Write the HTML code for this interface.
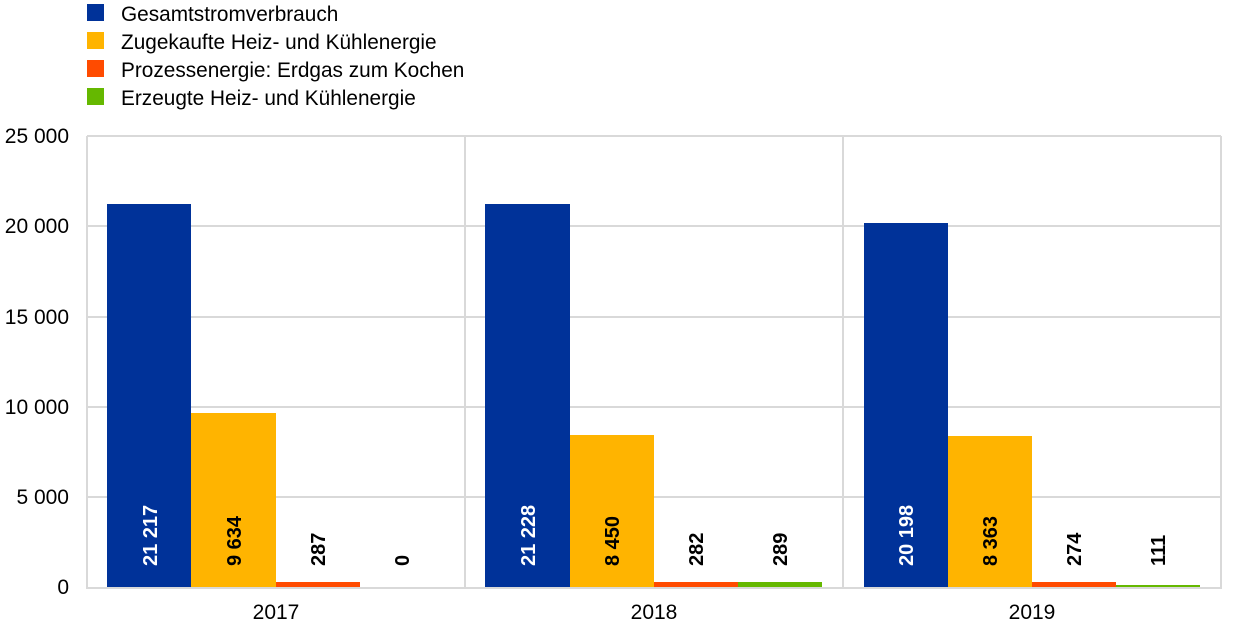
<!DOCTYPE html>
<html><head><meta charset="utf-8"><style>body{margin:0;background:#fff}</style></head><body>
<svg width="1240" height="633" xmlns="http://www.w3.org/2000/svg" font-family="Liberation Sans, Arial, sans-serif">
<rect width="1240" height="633" fill="#fff"/>
<g font-size="20.8" fill="#000">
<rect x="87" y="4" width="17" height="17" fill="#003299"/><text x="121" y="21">Gesamtstromverbrauch</text>
<rect x="87" y="32" width="17" height="17" fill="#ffb400"/><text x="121" y="49">Zugekaufte Heiz- und Kühlenergie</text>
<rect x="87" y="60" width="17" height="17" fill="#ff4b00"/><text x="121" y="77">Prozessenergie: Erdgas zum Kochen</text>
<rect x="87" y="88" width="17" height="17" fill="#65b800"/><text x="121" y="105">Erzeugte Heiz- und Kühlenergie</text>
</g>
<g stroke="#d9d9d9" stroke-width="2" fill="none">
<line x1="87" y1="136" x2="1221" y2="136"/><line x1="87" y1="226" x2="1221" y2="226"/>
<line x1="87" y1="317" x2="1221" y2="317"/><line x1="87" y1="407" x2="1221" y2="407"/>
<line x1="87" y1="497" x2="1221" y2="497"/>
<line x1="87" y1="136" x2="87" y2="587"/><line x1="465" y1="136" x2="465" y2="587"/>
<line x1="843" y1="136" x2="843" y2="587"/><line x1="1221" y1="136" x2="1221" y2="587"/>
<line x1="86" y1="588" x2="1222" y2="588"/>
</g>
<g font-size="21" text-anchor="end">
<text x="69" y="143">25 000</text><text x="69" y="233">20 000</text><text x="69" y="324">15 000</text>
<text x="69" y="414">10 000</text><text x="69" y="504">5 000</text><text x="69" y="594">0</text>
</g>
<g font-size="21" text-anchor="middle">
<text x="276" y="619">2017</text><text x="654" y="619">2018</text><text x="1032" y="619">2019</text>
</g>
<rect x="107" y="204" width="84" height="383" fill="#003299"/>
<rect x="191" y="413" width="85" height="174" fill="#ffb400"/>
<rect x="276" y="582" width="84" height="5" fill="#ff4b00"/>
<rect x="485" y="204" width="85" height="383" fill="#003299"/>
<rect x="570" y="435" width="84" height="152" fill="#ffb400"/>
<rect x="654" y="582" width="84" height="5" fill="#ff4b00"/>
<rect x="738" y="582" width="84" height="5" fill="#65b800"/>
<rect x="864" y="223" width="84" height="364" fill="#003299"/>
<rect x="948" y="436" width="84" height="151" fill="#ffb400"/>
<rect x="1032" y="582" width="84" height="5" fill="#ff4b00"/>
<rect x="1116" y="585" width="84" height="2" fill="#65b800"/>
<g font-size="20" font-weight="bold">
<text transform="translate(157,566) rotate(-90)" fill="#fff">21 217</text>
<text transform="translate(241,566) rotate(-90)">9 634</text>
<text transform="translate(325,566) rotate(-90)">287</text>
<text transform="translate(409,566) rotate(-90)">0</text>
<text transform="translate(535,566) rotate(-90)" fill="#fff">21 228</text>
<text transform="translate(619,566) rotate(-90)">8 450</text>
<text transform="translate(703,566) rotate(-90)">282</text>
<text transform="translate(787,566) rotate(-90)">289</text>
<text transform="translate(913,566) rotate(-90)" fill="#fff">20 198</text>
<text transform="translate(997,566) rotate(-90)">8 363</text>
<text transform="translate(1081,566) rotate(-90)">274</text>
<text transform="translate(1165,566) rotate(-90)">111</text>
</g>
</svg>
</body></html>
